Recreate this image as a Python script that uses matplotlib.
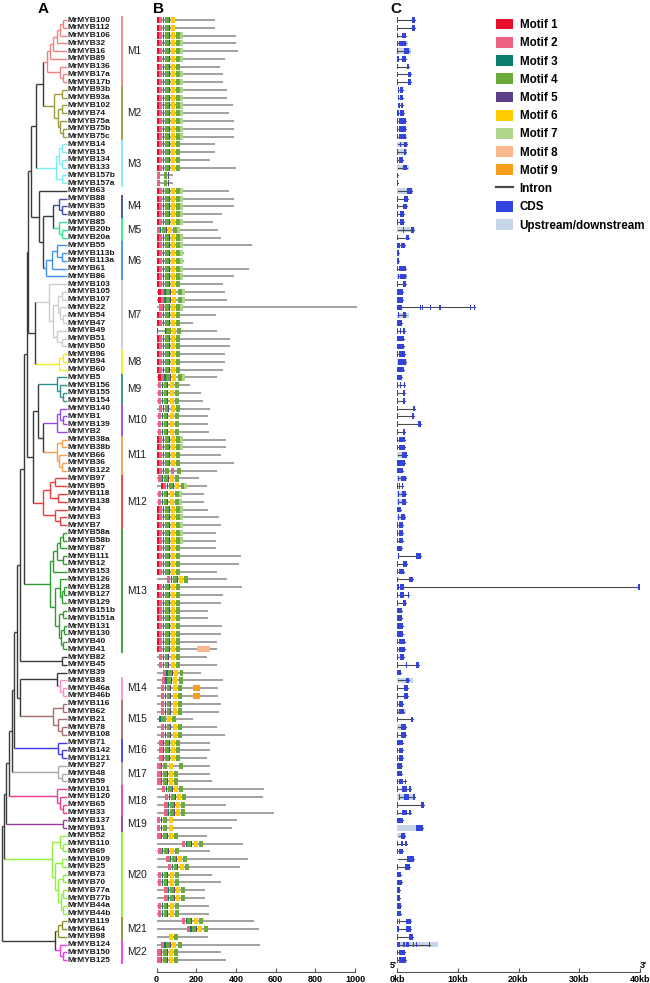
import matplotlib
matplotlib.use('Agg')
import matplotlib.pyplot as plt
from matplotlib.patches import Rectangle, Patch
from matplotlib.lines import Line2D

plt.rcParams['font.family'] = ['Liberation Sans', 'DejaVu Sans']

# ---------------- data ----------------
gene_ids = ['100','112','106','32','16','89','136','17a','17b',
            '93b','93a','102','74','75a','75b','75c',
            '14','15','134','133','157b','157a',
            '63',
            '88','35','80',
            '85','20b','20a',
            '55','113b','113a','61','86',
            '103','105','107','22','54','47','49','51','50',
            '96','94','60',
            '5','156','155','154',
            '140','1','139','2',
            '38a','38b','66','36','122',
            '97','95','118','138','4','3','7',
            '58a','58b','87','111','12','153','126','128','127','129','151b','151a','131','130','40','41',
            '82','45','39',
            '83','46a','46b',
            '116','62','21','78','108',
            '71','142','121',
            '27','48','59',
            '101','120','65','33',
            '137','91',
            '52','110','69','109','25','73','70','77a','77b','44a','44b',
            '119','64','98',
            '124','150','125']

groups = [('M1','100','17b'), ('M2','93b','75c'), ('M3','14','157a'), ('M4','88','80'),
          ('M5','85','20a'), ('M6','55','86'), ('M7','103','50'), ('M8','96','60'),
          ('M9','5','154'), ('M10','140','2'), ('M11','38a','122'), ('M12','97','7'),
          ('M13','58a','41'), ('M14','83','46b'), ('M15','116','108'), ('M16','71','121'),
          ('M17','27','59'), ('M18','101','33'), ('M19','137','91'), ('M20','52','44b'),
          ('M21','119','98'), ('M22','124','125')]
group_colors = ['#f47f7f','#9b9b3c','#78eef5','#3b4f9a','#2ee88a','#3d8ff0','#cccccc','#f2ee1c',
                '#2c8f8f','#9b45f0','#f5a04a','#f03a3a','#2e9b2e','#ff8ad0','#a56a6a','#3a3af0',
                '#a8a8a8','#f23a96','#9b3a9b','#8ff03a','#8e8e2e','#ee3aee']
backbone_color = '#3a3a3a'

# tree: (node x position, children...), leaves are gene ids
M1 = (47, (50, (53, (57, (60, (63, '100', '112'), '106'), '32'), '16'), '89'),
      (60, '136', (63, '17a', '17b')))
M2 = (54, (62, '93b', '93a'), (58, (62, '102', '74'), (60, '75a', (63, '75b', '75c'))))
M3 = (56, (59, (62, '14', '15'), (62, '134', '133')), (62, '157b', '157a'))
M4 = (59, '88', (62, '35', '80'))
M5 = (59, '85', (62, '20b', '20a'))
M6 = (46, (52, (57, '55', (62, '113b', '113a')), '61'), '86')
M7 = (49, '103', (53, (58, (62, '105', '107'), (60, '22', (63, '54', '47'))),
                  (57, '49', (62, '51', '50'))))
M8 = (59, (63, '96', '94'), '60')
M9 = (57, '5', (60, '156', (63, '155', '154')))
M10 = (57, (60, '140', (63, '1', '139')), '2')
M11 = (57, (62, '38a', '38b'), (59, '66', (62, '36', '122')))
M12 = (43, (50, (55, '97', '95'), (58, '118', '138')), (55, '4', (60, '3', '7')))
M13 = (50, (53, (57, (60, (63, '58a', '58b'), '87'), (63, '111', '12')), '153'),
       (55, (60, '126', (62, (64, '128', '127'), '129')),
        (59, (63, '151b', '151a'), (61, (64, '131', '130'), (63, '40', '41')))))
M14 = (60, '83', (63, '46a', '46b'))
M15 = (53, (63, '116', '62'), (58, '21', (62, '78', '108')))
M16 = (58, '71', (62, '142', '121'))
M17 = (58, '27', (62, '48', '59'))
M18 = (57, '101', (60, '120', (63, '65', '33')))
M19 = (63, '137', '91')
M20 = (52, (60, '52', (63, '110', '69')),
       (55, (62, '109', '25'), (58, (63, '73', '70'), (61, (63, '77a', '77b'), (63, '44a', '44b')))))
M21 = (58, (62, '119', '64'), '98')
M22 = (60, '124', (63, '150', '125'))
U1 = (36, (43, M1, M2), M3)
U2 = (39, '63', (43, (53, M4, M5), M6))
T3 = (28, (31, U1, U2), (35, M7, M8))
T5 = (33, (38, M9, (43, M10, M11)), M12)
T8 = (20, (24, (27, T3, T5), M13), (62, '82', '45'))
T9 = (17, T8, (20, (57, '39', M14), M15))
T13 = (6, (9, (12, (14, T9, M16), M17), M18), M19)
tree = (1.5, (4, T13, M20), (55, M21, M22))

protein_len = [294,294,400,403,412,345,320,333,333,
               357,357,384,365,392,392,392,
               294,294,269,400,85,85,
               365,
               388,388,328,
               286,311,323,
               479,138,138,466,388,
               336,345,357,1008,300,185,306,370,370,
               345,345,333,
               303,169,224,236,
               269,261,261,266,
               350,350,323,388,303,
               214,253,239,239,261,315,323,
               300,300,298,424,416,303,353,429,336,323,258,258,331,325,306,303,
               253,306,222,
               336,311,311,
               325,317,185,303,345,
               272,269,256,
               272,269,278,
               542,539,350,592,
               408,378,
               253,434,272,460,421,278,325,244,244,266,266,
               493,515,258,
               522,323,350]

# motif layouts (motif number, start aa, end aa) relative to an offset
motif_patterns = {
    'full': [(1,0,14),(2,14,29),(3,32,39),(4,42,61),(5,61,66),(6,71,92),(4,100,119),(7,119,134)],
    'nob7': [(1,0,14),(2,14,29),(3,32,39),(4,42,61),(5,61,66),(6,71,92),(4,100,119)],
    'c6':   [(1,0,14),(2,14,29),(3,32,39),(4,42,61),(5,61,66),(6,71,92)],
    'd':    [(2,4,18),(4,38,54),(5,58,63)],
    'g':    [(2,0,16),(3,19,25),(4,28,47),(5,47,52),(6,59,79),(4,85,105)],
    'g7':   [(2,0,16),(3,19,25),(4,28,47),(5,47,52),(6,59,79),(4,85,105),(7,105,119)],
    'f49':  [(1,0,10),(5,42,47),(4,48,71),(6,80,99),(4,105,122)],
    'h122': [(1,0,14),(2,14,29),(3,32,39),(4,42,61),(2,73,86),(4,105,124)],
    'i21':  [(3,0,8),(4,10,31),(6,37,58),(4,63,82)],
    'j27':  [(2,0,16),(3,19,25),(4,28,47),(6,58,77),(4,108,128)],
    'k':    [(2,0,14),(3,17,25),(4,28,47),(6,58,79)],
    'l98':  [(6,0,19),(4,23,44)],
}
motif_pattern = (['c6']*2 + ['full']*4 + ['nob7'] + ['full']*9 + ['nob7']*4 + ['d']*2 +
                 ['full']*5 + ['g7'] + ['full']*6 + ['nob7'] + ['full']*2 + ['g7'] +
                 ['nob7']*2 + ['f49'] + ['nob7']*5 + ['full'] + ['g']*7 + ['full']*2 +
                 ['nob7']*2 + ['h122'] + ['g'] + ['full'] + ['g7']*2 + ['full']*5 +
                 ['nob7']*4 + ['g'] + ['nob7']*9 + ['g']*8 + ['i21'] + ['g']*5 + ['j27'] +
                 ['g']*6 + ['k']*2 + ['g']*13 + ['l98'] + ['g']*3)
motif_offset = ([0]*35 + [8,8,15] + [0]*8 + [8,8,8,8,13,8,8,8] + [0]*5 + [10,21,8,8] +
                [0]*9 + [54] + [0]*9 + [13,13,31,26,23,23,23,23,15,23,23,15,15,15,5,5,5,
                29,44,40,40,5,5,5,128,10,50,58,8,8,40,40,8,8,128,152,65,21,5,5])
extra_motifs = {'41': [(8,205,269)], '46a': [(9,182,219)], '46b': [(9,182,219)]}

motif_colors = ['#e8112d','#ef6183','#0a7f6e','#6aaa3a','#5b3f8a','#ffcc00','#add68a','#f9b88e','#f99d1c']

# gene structure: CDS blocks (kb) and upstream/downstream span (kb)
cds_kb = [
 [(0,0.15),(2.45,2.9)], [(0,0.15),(2.45,2.9)], [(0,0.15),(0.8,1.55)], [(0,0.15),(0.3,1.5)],
 [(0,0.15),(1.1,1.95)], [(0,0.3),(0.8,1.45)], [(0,0.15),(0.77,0.87),(1.64,2.05)],
 [(0,0.15),(1.13,1.2),(1.79,2.36)], [(0,0.15),(1.13,1.2),(1.79,2.36)],
 [(0.1,0.4),(0.5,1.03)], [(0.1,0.4),(0.5,1.03)], [(0.1,0.5),(0.6,1.03)], [(0,0.4),(0.5,1.13)],
 [(0,0.15),(0.3,1.44)], [(0,0.15),(0.3,1.44)], [(0,0.15),(0.3,1.44)],
 [(0.1,0.2),(0.5,0.6),(1.13,1.64)], [(0,0.15),(0.62,0.7),(1.13,1.54)], [(0,0.15),(0.41,1.03)],
 [(0.1,0.2),(0.92,1.7)], [(0,0.2)], [(0,0.2)],
 [(0.1,0.2),(1.64,2.41)],
 [(0,0.15),(1.13,1.79)], [(0,0.15),(1.03,1.7)], [(0,0.15),(0.51,1.13)],
 [(0,0.15),(0.51,1.13)], [(0.1,0.2),(1.03,1.1),(1.64,1.7),(2.31,2.82)], [(0,0.15),(0.77,0.87),(1.44,1.95)],
 [(0,0.5),(0.6,1.28)], [(0,0.3)], [(0,0.3)], [(0,0.15),(0.41,1.54)], [(0.2,0.4),(0.5,1.54)],
 [(0,0.15),(0.92,1.54)], [(0,0.3),(0.4,1.03)], [(0,0.3),(0.4,1.03)],
 [(0,0.77),(3.85,3.95),(4.1,4.2),(5.5,5.6),(6.9,7.0),(7.15,7.25),(7.7,7.8),(9.5,9.6),
  (10.0,10.1),(10.5,10.6),(11.0,11.1),(11.5,11.6),(12.0,12.1),(12.6,12.9)],
 [(0.1,0.26),(0.92,1.54)], [(0,0.3),(0.4,0.77)], [(0,0.15),(0.51,0.6),(0.92,1.28)],
 [(0,0.3),(0.4,1.13)], [(0,0.3),(0.4,1.13)],
 [(0,0.15),(0.26,1.28)], [(0.2,0.3),(0.41,1.54)], [(0,0.3),(0.4,1.13)],
 [(0,0.3),(0.4,0.87)], [(0,0.15),(0.51,0.6),(1.13,1.28)], [(0,0.15),(1.03,1.28)], [(0,0.15),(0.92,1.28)],
 [(0,0.15),(2.56,2.92)], [(0,0.15),(2.41,2.82)], [(0,0.15),(3.49,3.95)], [(0,0.15),(0.62,0.7),(0.92,1.28)],
 [(0,0.15),(0.41,1.28)], [(0,0.15),(0.41,1.28)], [(0.1,0.2),(0.77,1.64)], [(0,0.3),(0.4,1.28)], [(0,0.3),(0.4,0.92)],
 [(0.2,0.3),(0.62,1.44)], [(0,0.15),(0.41,0.5),(0.77,1.03)], [(0.2,0.3),(0.77,1.44)], [(0.2,0.3),(0.87,1.44)],
 [(0,0.62)], [(0.2,0.3),(0.62,1.28)], [(0,0.15),(0.26,1.03)],
 [(0,0.15),(0.26,1.03)], [(0,0.15),(0.26,1.03)], [(0,0.77)], [(0.1,0.4),(3.08,3.95)],
 [(0,0.15),(0.26,0.35),(0.92,1.64)], [(0,0.15),(0.26,1.13)], [(0,0.15),(1.44,1.54),(2.05,2.67)],
 [(0,0.26),(0.51,1.13),(39.75,40.0)], [(0,0.15),(0.51,1.13),(1.8,1.95)], [(0,0.15),(0.92,1.54)],
 [(0,0.77)], [(0,0.77)], [(0,1.03)], [(0,1.03)], [(0,0.15),(0.26,1.28)], [(0,0.15),(0.26,1.28)],
 [(0,0.15),(0.51,1.13)], [(0,0.15),(1.54,1.64),(3.08,3.59)], [(0,0.62)],
 [(0.1,0.2),(1.44,2.05)], [(0,0.15),(1.13,1.79)], [(0,0.15),(1.13,1.79)],
 [(0,0.15),(0.26,1.03)], [(0,0.15),(0.41,1.13)], [(0,0.15),(2.31,2.67)], [(0.1,0.2),(0.62,1.44)],
 [(0,0.15),(0.62,1.44)],
 [(0,1.03)], [(0,0.15),(0.26,0.92)], [(0,0.15),(0.26,1.03)],
 [(0,0.77)], [(0,0.77)], [(0,0.15),(0.26,0.92),(1.28,1.54)],
 [(0,0.15),(0.87,1.64),(1.95,2.31)], [(0.4,0.5),(1.13,1.95),(2.67,2.92)], [(0,0.15),(4.0,4.51)],
 [(0,0.15),(0.77,1.64),(1.95,2.31)],
 [(0,0.92)], [(3.08,4.2)],
 [(0.26,0.35),(0.62,1.28)], [(0,0.15),(0.26,0.35),(0.62,1.03),(1.28,1.64)], [(0,0.15),(0.26,0.92)],
 [(0.1,0.2),(1.64,2.82)], [(0,0.15),(1.28,2.15)], [(0,0.62)], [(0,0.77)], [(0,0.51)], [(0,0.51)],
 [(0,0.62)], [(0,0.62)],
 [(0,0.15),(0.26,0.5),(1.44,2.31)], [(0,0.41),(1.44,2.31)], [(0,0.15),(2.05,2.56)],
 [(0,0.51),(0.92,1.28),(1.54,1.95),(2.56,2.82),(3.08,3.33),(5.23,5.38)],
 [(0,0.15),(0.26,1.28)], [(0,0.15),(0.41,1.44)],
]
utr_kb = {'32': (0,1.8), '16': (0,2.3), '14': (0,1.8), '15': (0,1.7), '133': (0,1.9), '63': (0,2.56),
          '20b': (0,2.9), '86': (0,1.7), '54': (0,1.95), '94': (0,1.6), '66': (0,1.7), '97': (0,1.6),
          '118': (0,1.5), '138': (0,1.5), '3': (0,1.4), '83': (0,2.56), '62': (0,1.54), '78': (0,1.5),
          '120': (0,3.0), '91': (0,4.36), '52': (0,1.54), '124': (0,6.67)}

b_ticks = [0, 200, 400, 600, 800, 1000]
c_ticks = [0, 10, 20, 30, 40]
c_tick_labels = ['0kb', '10kb', '20kb', '30kb', '40kb']
legend_labels = ['Motif 1','Motif 2','Motif 3','Motif 4','Motif 5','Motif 6','Motif 7','Motif 8','Motif 9',
                 'Intron','CDS','Upstream/downstream']
cds_color = '#3344dd'
utr_color = '#c6d6e8'
intron_color = '#4a4a4a'

# ---------------- layout ----------------
W, H = 650, 983
n = len(gene_ids)
assert len(protein_len) == n and len(motif_pattern) == n and len(motif_offset) == n and len(cds_kb) == n
row = {g: i for i, g in enumerate(gene_ids)}
gene_group = {}
for gi, (name, first, last) in enumerate(groups):
    for i in range(row[first], row[last] + 1):
        gene_group[gene_ids[i]] = gi

fig = plt.figure(figsize=(W/100, H/100), dpi=100)
ROW_TOP, ROW_STEP = 20.0, 7.77
y_top = ROW_TOP - ROW_STEP
y_bot = ROW_TOP + ROW_STEP * n

def px_axes(x0, x1):
    return fig.add_axes([x0/W, 1 - y_bot/H, (x1 - x0)/W, (y_bot - y_top)/H])

# ---- panel A: tree ----
axA = px_axes(0, 150)
axA.set_xlim(0, 150)
axA.set_ylim(n, -1)
axA.axis('off')
LEAF_X = 66.5

def clade_color(leaves):
    gs = {gene_group.get(l, -1) for l in leaves}
    if len(gs) == 1 and -1 not in gs:
        return group_colors[gs.pop()]
    return backbone_color

def draw(node):
    if isinstance(node, str):
        return LEAF_X, row[node], [node]
    x = node[0]
    kids = [draw(c) for c in node[1:]]
    ys = [k[1] for k in kids]
    leaves = [l for k in kids for l in k[2]]
    for kx, ky, kl in kids:
        axA.plot([x, kx], [ky, ky], color=clade_color(kl), lw=1.0, solid_capstyle='butt')
    axA.plot([x, x], [min(ys), max(ys)], color=clade_color(leaves), lw=1.0, solid_capstyle='butt')
    return x, (min(ys) + max(ys)) / 2, leaves

leaf_order = draw(tree)[2]
assert leaf_order == gene_ids

for i, g in enumerate(gene_ids):
    axA.text(68, i, 'MrMYB' + g, fontsize=6.0, fontweight='bold', va='center', ha='left', color='#1a1a1a')

for gi, (name, first, last) in enumerate(groups):
    a, b = row[first], row[last]
    axA.plot([122, 122], [a - 0.5, b + 0.5], color=group_colors[gi], lw=1.3, solid_capstyle='butt')
    axA.text(127, (a + b) / 2, name, fontsize=7.3, va='center', ha='left', color='#1a1a1a')

# ---- panel B: motifs ----
axB = px_axes(156.5, 355)
axB.set_xlim(0, 1000)
axB.set_ylim(n, -1)
for i, g in enumerate(gene_ids):
    axB.plot([0, protein_len[i]], [i, i], color='#9a9a9a', lw=1.3, solid_capstyle='butt', zorder=1,
             clip_on=False)
    mlist = [(m, s + motif_offset[i], e + motif_offset[i]) for m, s, e in motif_patterns[motif_pattern[i]]]
    mlist += extra_motifs.get(g, [])
    for m, s, e in mlist:
        axB.add_patch(Rectangle((s, i - 0.4), e - s, 0.8, facecolor=motif_colors[m - 1],
                                edgecolor='none', zorder=2))
for s in ['top', 'right', 'left']:
    axB.spines[s].set_visible(False)
axB.spines['bottom'].set_position(('outward', 3))
axB.spines['bottom'].set_bounds(0, 1000)
axB.spines['bottom'].set_color('#555555')
axB.set_yticks([])
axB.set_xticks(b_ticks)
axB.set_xticklabels([str(t) for t in b_ticks], fontsize=6.5, fontweight='bold')
axB.tick_params(axis='x', direction='in', length=3, width=0.8, color='#555555', pad=2)

# ---- panel C: gene structure ----
axC = px_axes(397, 640)
axC.set_xlim(0, 40)
axC.set_ylim(n, -1)
for i, g in enumerate(gene_ids):
    ex = cds_kb[i]
    if g in utr_kb:
        u0, u1 = utr_kb[g]
        axC.add_patch(Rectangle((u0, i - 0.34), u1 - u0, 0.68, facecolor=utr_color, edgecolor='none', zorder=1))
    lo = min(e[0] for e in ex)
    hi = max(e[1] for e in ex)
    axC.plot([lo, hi], [i, i], color=intron_color, lw=0.8, zorder=2)
    for s, e in ex:
        axC.add_patch(Rectangle((s, i - 0.36), e - s, 0.72, facecolor=cds_color, edgecolor='none', zorder=3))
for s in ['top', 'right', 'left']:
    axC.spines[s].set_visible(False)
axC.spines['bottom'].set_position(('outward', 3))
axC.spines['bottom'].set_bounds(0, 40)
axC.spines['bottom'].set_color('#555555')
axC.set_yticks([])
axC.set_xticks(c_ticks)
axC.set_xticklabels(c_tick_labels, fontsize=6.5, fontweight='bold')
axC.tick_params(axis='x', direction='in', length=3, width=0.8, color='#555555', pad=2)
axC.text(-0.6, n + 0.3, "5'", fontsize=6.5, fontweight='bold', ha='center', va='bottom', clip_on=False)
axC.text(40.6, n + 0.3, "3'", fontsize=6.5, fontweight='bold', ha='center', va='bottom', clip_on=False)

# ---- panel letters ----
for letter, xp in [('A', 43), ('B', 159), ('C', 396)]:
    fig.text(xp/W, 1 - 9/H, letter, fontsize=11, fontweight='bold', ha='center', va='center')

# ---- legend ----
handles = [Patch(facecolor=c, edgecolor='none') for c in motif_colors]
handles += [Line2D([], [], color=intron_color, lw=1.6),
            Patch(facecolor=cds_color, edgecolor='none'),
            Patch(facecolor=utr_color, edgecolor='none')]
fig.legend(handles, legend_labels, loc='upper left', bbox_to_anchor=(491/W, 1 - 14/H),
           frameon=False, prop={'size': 8.4, 'weight': 'bold'}, handlelength=1.45,
           handleheight=1.05, labelspacing=0.5, handletextpad=0.6, borderaxespad=0)

fig.savefig('out.png', dpi=100)
